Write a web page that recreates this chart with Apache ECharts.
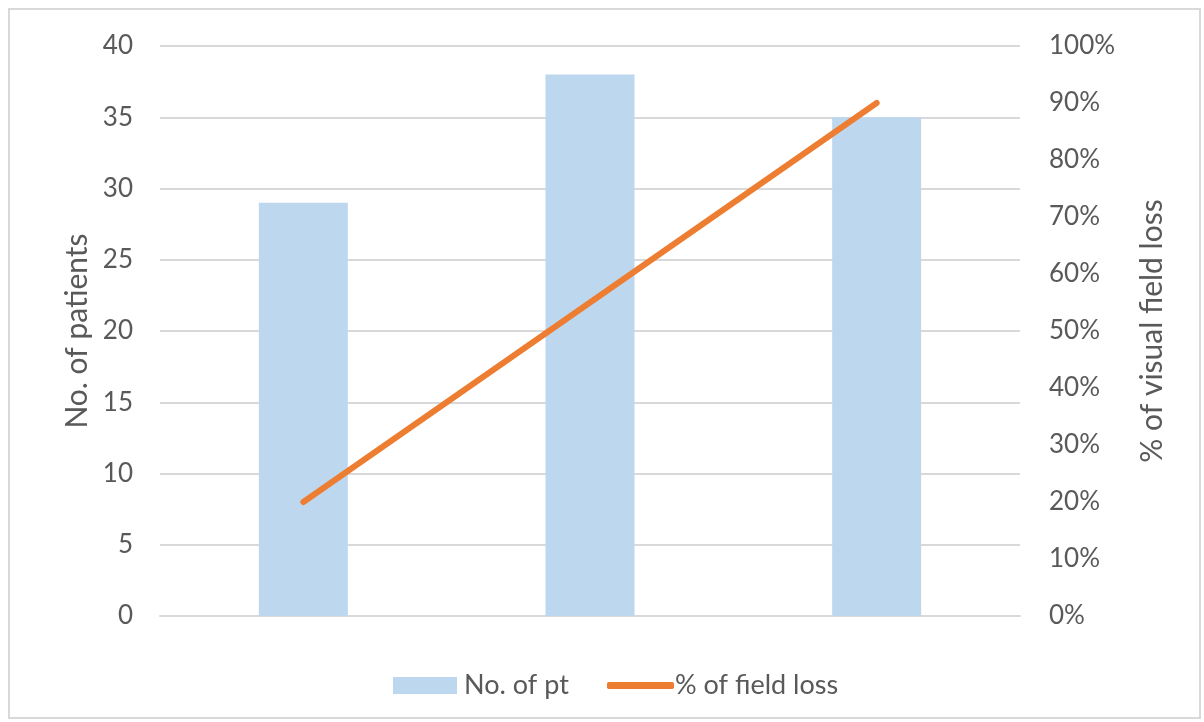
<!DOCTYPE html>
<html>
<head>
<meta charset="utf-8">
<script src="https://cdn.jsdelivr.net/npm/echarts@6/dist/echarts.min.js"></script>
<style>
  html, body { margin: 0; padding: 0; background: #fff; }
  #chart { width: 1204px; height: 722px; }
</style>
</head>
<body>
<div id="chart"></div>
<script>
// Groups along the x axis (no labels are printed under the bars)
const categories = ['Group 1', 'Group 2', 'Group 3'];
// Number of patients per group (left axis)
const patients = [29, 38, 35];
// Share of visual field loss per group (right axis, fraction)
const fieldLoss = [0.20, 0.55, 0.90];
// Axis tick values
const leftTicks = { min: 0, max: 40, interval: 5 };
const rightTicks = { min: 0, max: 1, interval: 0.1 };

const FONT = 'Lato';
const TEXT = '#595959';
const GRID = '#d9d9d9';

const chart = echarts.init(document.getElementById('chart'));
chart.setOption({
  animation: false,
  textStyle: { fontFamily: FONT },
  graphic: [{
    type: 'rect',
    shape: { x: 9, y: 9, width: 1191, height: 709 },
    style: { fill: 'none', stroke: GRID, lineWidth: 2 },
    silent: true
  }],
  grid: { left: 160, right: 184, top: 46, bottom: 106 },
  legend: [{
    data: ['No. of pt'],
    left: 388, top: 667,
    itemWidth: 64, itemHeight: 17,
    icon: 'rect',
    textStyle: { color: TEXT, fontSize: 27, fontFamily: FONT, padding: [0, 0, 0, 2] }
  }, {
    data: ['% of field loss'],
    left: 602, top: 667,
    itemWidth: 67, itemHeight: 7,
    icon: 'roundRect',
    textStyle: { color: TEXT, fontSize: 27, fontFamily: FONT, padding: [0, 0, 0, -4] }
  }],
  xAxis: {
    type: 'category',
    data: categories,
    axisLine: { lineStyle: { color: GRID, width: 2 } },
    axisTick: { show: false },
    axisLabel: { show: false }
  },
  yAxis: [{
    type: 'value',
    min: leftTicks.min, max: leftTicks.max, interval: leftTicks.interval,
    name: 'No. of patients',
    nameLocation: 'middle',
    nameGap: 62,
    nameRotate: 90,
    nameTextStyle: { color: TEXT, fontSize: 30, fontFamily: FONT },
    axisLine: { show: false },
    axisTick: { show: false },
    axisLabel: { color: TEXT, fontSize: 26, margin: 27 },
    splitLine: { lineStyle: { color: GRID, width: 2 } }
  }, {
    type: 'value',
    position: 'right',
    min: rightTicks.min, max: rightTicks.max, interval: rightTicks.interval,
    name: '% of visual field loss',
    nameLocation: 'middle',
    nameGap: 117,
    nameRotate: 90,
    nameTextStyle: { color: TEXT, fontSize: 30, fontFamily: FONT },
    axisLine: { show: false },
    axisTick: { show: false },
    axisLabel: {
      color: TEXT, fontSize: 26, margin: 29,
      formatter: v => Math.round(v * 100) + '%'
    },
    splitLine: { show: false }
  }],
  series: [{
    name: 'No. of pt',
    type: 'bar',
    data: patients,
    barWidth: 89,
    itemStyle: { color: '#BDD7EE' }
  }, {
    name: '% of field loss',
    type: 'line',
    yAxisIndex: 1,
    data: fieldLoss,
    symbol: 'none',
    lineStyle: { color: '#ED7D31', width: 6, cap: 'round' },
    itemStyle: { color: '#ED7D31' }
  }]
});
</script>
</body>
</html>
